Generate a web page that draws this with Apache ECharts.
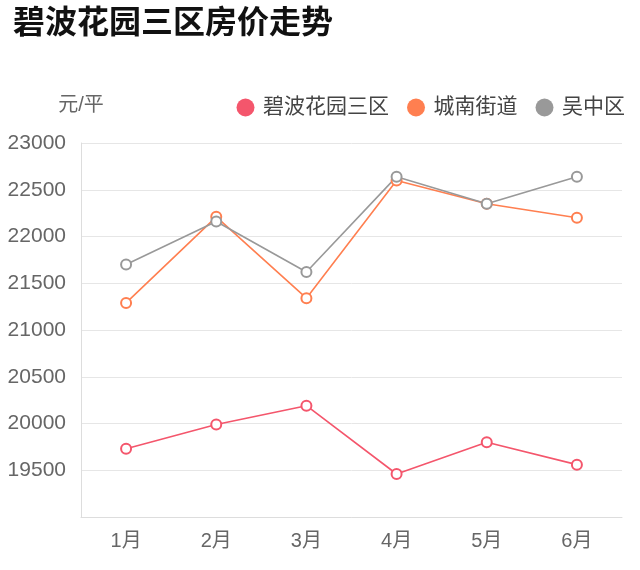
<!DOCTYPE html>
<html>
<head>
<meta charset="utf-8">
<script src="https://cdn.jsdelivr.net/npm/echarts@6/dist/echarts.min.js"></script>
<style>html,body{margin:0;padding:0;background:#fff}#c{width:640px;height:570px}</style>
</head>
<body>
<div id="c"></div>
<script>
var titleText = '碧波花园三区房价走势';
var yName = '元/平';
var categories = ['1月', '2月', '3月', '4月', '5月', '6月'];
var seriesNames = ['碧波花园三区', '城南街道', '吴中区'];
var biboValues = [19730, 19990, 20190, 19460, 19800, 19560];
var chengnanValues = [21290, 22210, 21340, 22600, 22350, 22200];
var wuzhongValues = [21700, 22160, 21620, 22640, 22350, 22640];
var colors = ['#f4566c', '#ff7f50', '#999999'];

var FF = 'Liberation Sans, Noto Sans CJK SC, sans-serif';
var chart = echarts.init(document.getElementById('c'));
function mk(name, data, color) {
  return {
    name: name, type: 'line', data: data,
    symbol: 'emptyCircle', symbolSize: 10,
    itemStyle: { color: color, borderWidth: 1.5 },
    lineStyle: { color: color, width: 1.6 }
  };
}
chart.setOption({
  animation: false,
  textStyle: { fontFamily: FF },
  color: colors,
  title: {
    text: titleText, left: 8, top: 3,
    textStyle: { fontSize: 32, fontWeight: 'bold', color: '#111', fontFamily: FF }
  },
  legend: {
    right: 10, top: 92, itemWidth: 25, itemHeight: 18, itemGap: 18,
    icon: 'circle',
    textStyle: { fontSize: 21, color: '#444', fontFamily: FF },
    data: seriesNames
  },
  grid: { left: 81, right: 18, top: 143, bottom: 53 },
  xAxis: {
    type: 'category', data: categories,
    axisLine: { lineStyle: { color: '#dddddd' } },
    axisTick: { show: false },
    axisLabel: { fontSize: 20, color: '#666', margin: 14, fontFamily: FF }
  },
  yAxis: {
    type: 'value', min: 19000, max: 23000, interval: 500,
    name: yName, nameGap: 28,
    nameTextStyle: { fontSize: 20, color: '#666', fontFamily: FF },
    axisLine: { show: true, lineStyle: { color: '#dddddd' } },
    axisTick: { show: false },
    axisLabel: { fontSize: 21, color: '#666', margin: 15, showMinLabel: false, fontFamily: FF,
      formatter: function (v) { return String(v); } },
    splitLine: { lineStyle: { color: '#e6e6e6' } }
  },
  series: [
    mk(seriesNames[0], biboValues, colors[0]),
    mk(seriesNames[1], chengnanValues, colors[1]),
    mk(seriesNames[2], wuzhongValues, colors[2])
  ]
});
</script>
</body>
</html>
